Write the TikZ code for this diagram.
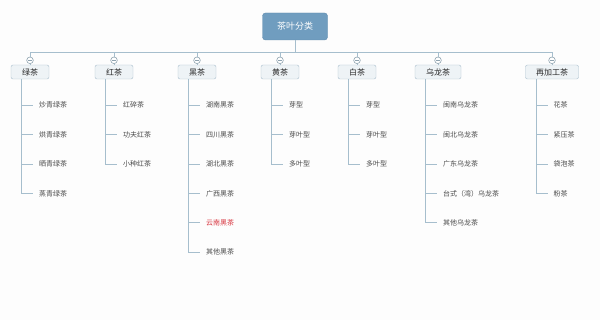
\documentclass[tikz,border=0pt]{standalone}
\usepackage{fontspec}
\setmainfont{Noto Sans CJK SC}
\definecolor{bgC}{HTML}{FDFDFD}
\definecolor{lineC}{HTML}{A6BECD}
\definecolor{rootF}{HTML}{709DBF}
\definecolor{rootB}{HTML}{5F8BAD}
\definecolor{catF}{HTML}{EEF3F6}
\definecolor{catB}{HTML}{A9BFCD}
\definecolor{catT}{HTML}{2A2A2A}
\definecolor{leafT}{HTML}{4A4A4A}
\definecolor{redT}{HTML}{D8353F}
\definecolor{togB}{HTML}{8FA3B0}
\begin{document}
\begin{tikzpicture}[x=1pt,y=-1pt,
  line/.style={draw=lineC, line width=0.8pt},
  rootbox/.style={draw=rootB, fill=rootF, rounded corners=3pt, minimum width=65pt, minimum height=27pt, text=white, font=\fontsize{9}{11}\selectfont, inner sep=0pt},
  catbox/.style={draw=catB, fill=catF, rounded corners=2pt, minimum height=14pt, inner sep=0pt, font=\fontsize{8}{9}\selectfont, text=catT},
  toggle/.style={circle, draw=togB, fill=white, minimum size=6.6pt, inner sep=0pt, line width=0.6pt,
    path picture={\draw[togB,line width=0.5pt] ([xshift=-1.8pt]path picture bounding box.center) -- ([xshift=1.8pt]path picture bounding box.center);}},
  leaf/.style={anchor=west, inner sep=0pt, font=\fontsize{7}{8}\selectfont, text=leafT},
]
\useasboundingbox[fill=bgC] (0,0) rectangle (600,320);
\node[rootbox] (root) at (295,26.5) {茶叶分类};
\coordinate (bus) at (0,52.3);
\foreach \id/\cx/\w/\txt in {a/30/38/绿茶, b/114/38/红茶, c/197/38/黑茶, d/280/38/黄茶, e/357/38/白茶, f/438/46/乌龙茶, g/552/53/再加工茶} {
  \node[catbox, minimum width=\w pt] (c\id) at (\cx,72) {\txt};
  \node[toggle] (k\id) at (\cx,60.3) {};
  \draw[line] (root.south) -- (root.south |- bus) -| (k\id.north);
  \draw[line] (k\id.south) -- (c\id.north);
  \coordinate (l\id) at ([xshift=11pt]c\id.south west);
}
% leaves
\foreach \t [count=\i] in {炒青绿茶,烘青绿茶,晒青绿茶,蒸青绿茶}
  {\node[leaf] (a\i) at (39,{105.3+(\i-1)*29.4}) {\t};
   \draw[line] (a\i.west -| la) -- ([xshift=-6pt]a\i.west);}
\draw[line] (la) |- ([xshift=-6pt]a4.west);
\foreach \t [count=\i] in {红碎茶,功夫红茶,小种红茶}
  {\node[leaf] (b\i) at (123,{105.3+(\i-1)*29.4}) {\t};
   \draw[line] (b\i.west -| lb) -- ([xshift=-6pt]b\i.west);}
\draw[line] (lb) |- ([xshift=-6pt]b3.west);
\foreach \t [count=\i] in {湖南黑茶,四川黑茶,湖北黑茶,广西黑茶,\textcolor{redT}{云南黑茶},其他黑茶}
  {\node[leaf] (c\i) at (206,{105.3+(\i-1)*29.4}) {\t};
   \draw[line] (c\i.west -| lc) -- ([xshift=-6pt]c\i.west);}
\draw[line] (lc) |- ([xshift=-6pt]c6.west);
\foreach \t [count=\i] in {芽型,芽叶型,多叶型}
  {\node[leaf] (d\i) at (289,{105.3+(\i-1)*29.4}) {\t};
   \draw[line] (d\i.west -| ld) -- ([xshift=-6pt]d\i.west);}
\draw[line] (ld) |- ([xshift=-6pt]d3.west);
\foreach \t [count=\i] in {芽型,芽叶型,多叶型}
  {\node[leaf] (e\i) at (366,{105.3+(\i-1)*29.4}) {\t};
   \draw[line] (e\i.west -| le) -- ([xshift=-6pt]e\i.west);}
\draw[line] (le) |- ([xshift=-6pt]e3.west);
\foreach \t [count=\i] in {闽南乌龙茶,闽北乌龙茶,广东乌龙茶,台式（湾）乌龙茶,其他乌龙茶}
  {\node[leaf] (f\i) at (443,{105.3+(\i-1)*29.4}) {\t};
   \draw[line] (f\i.west -| lf) -- ([xshift=-6pt]f\i.west);}
\draw[line] (lf) |- ([xshift=-6pt]f5.west);
\foreach \t [count=\i] in {花茶,紧压茶,袋泡茶,粉茶}
  {\node[leaf] (g\i) at (553.5,{105.3+(\i-1)*29.4}) {\t};
   \draw[line] (g\i.west -| lg) -- ([xshift=-6pt]g\i.west);}
\draw[line] (lg) |- ([xshift=-6pt]g4.west);
\end{tikzpicture}
\end{document}
